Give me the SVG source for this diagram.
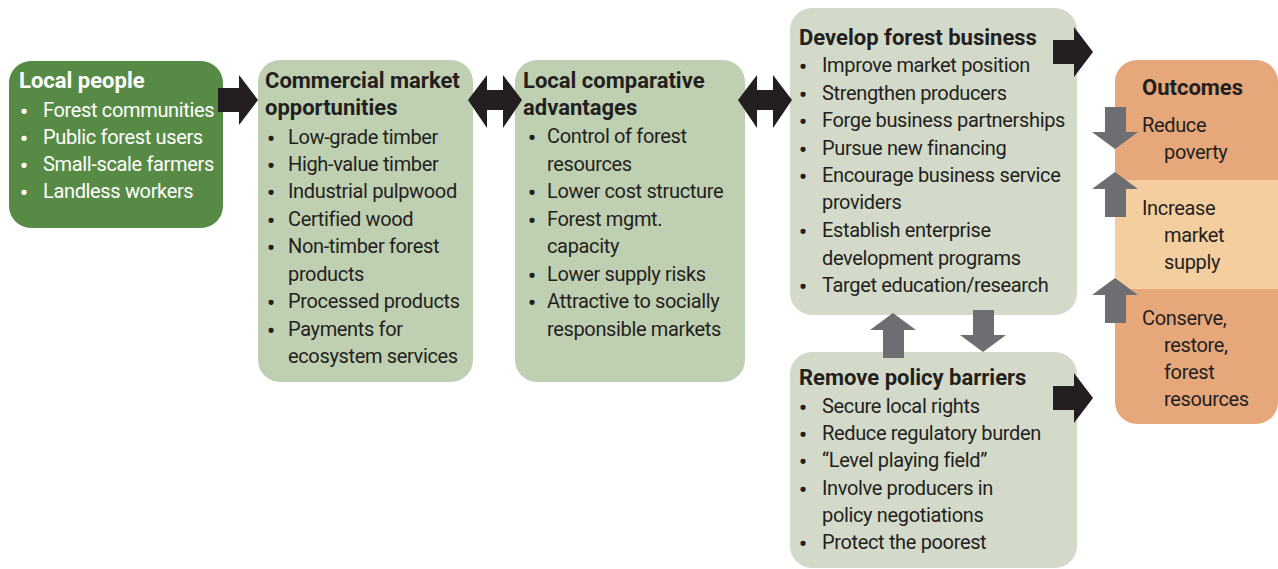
<svg xmlns="http://www.w3.org/2000/svg" width="1278" height="569" viewBox="0 0 1278 569">
  <style>
    text { font-family: Roboto, "Liberation Sans", sans-serif; font-size: 20px; letter-spacing: -0.35px; fill: #231f20; }
    .hd { font-weight: bold; font-size: 22px; letter-spacing: 0px; }
    .b { font-size: 22px; font-weight: bold; text-anchor: middle; letter-spacing: 0px; }
    .w { fill: #ffffff; }
    .dark { fill: #578b45; }
    .sage { fill: #bfcfb1; }
    .pale { fill: #d3dac9; }
    .blk { fill: #231f20; }
    .gry { fill: #6d6e71; }
  </style>
  <defs>
    <!-- block arrow pointing right, tip at origin -->
    <path id="arrR" d="M-40,-12 H-19 V-25 L0,0 L-19,25 V12 H-40 Z"/>
    <!-- double-headed arrow, centred on origin -->
    <path id="arr2" d="M-27,0 L-8,-25 V-10 H8 V-25 L27,0 L8,28 V10 H-8 V28 Z"/>
    <!-- grey arrow pointing down, tip at origin -->
    <path id="arrD" d="M-10,-42 H11 V-17 H23 L0,0 L-23,-17 H-10 Z"/>
    <!-- grey arrow pointing up, tip at origin -->
    <path id="arrU" d="M-10,45 H11 V17 H23 L0,0 L-23,17 H-10 Z"/>
  </defs>

  <!-- outcomes panel (drawn first so arrows sit over it) -->
  <g id="outcomes">
    <clipPath id="outClip"><rect x="1115" y="60" width="163" height="364" rx="22"/></clipPath>
    <g clip-path="url(#outClip)">
      <rect x="1115" y="60" width="163" height="120" fill="#e6a77b"/>
      <rect x="1115" y="180" width="163" height="109" fill="#f5cea0"/>
      <rect x="1115" y="289" width="163" height="135" fill="#e6a77b"/>
    </g>
    <text class="hd" x="1142" y="95">Outcomes</text>
    <text x="1142" y="132">Reduce</text>
    <text x="1164" y="159">poverty</text>
    <text x="1142" y="215">Increase</text>
    <text x="1164" y="242">market</text>
    <text x="1164" y="269">supply</text>
    <text x="1142" y="325">Conserve,</text>
    <text x="1164" y="352">restore,</text>
    <text x="1164" y="379">forest</text>
    <text x="1164" y="406">resources</text>
  </g>

  <g id="local-people">
    <rect class="dark" x="9" y="61" width="214" height="167" rx="22"/>
    <text class="hd w" x="19" y="88">Local people</text>
    <text class="b w" x="24" y="119">•</text><text class="w" x="43" y="117">Forest communities</text>
    <text class="b w" x="24" y="146">•</text><text class="w" x="43" y="144">Public forest users</text>
    <text class="b w" x="24" y="173">•</text><text class="w" x="43" y="171">Small-scale farmers</text>
    <text class="b w" x="24" y="200">•</text><text class="w" x="43" y="198">Landless workers</text>
  </g>

  <g id="market-opportunities">
    <rect class="sage" x="258" y="60" width="215" height="322" rx="22"/>
    <text class="hd" x="265" y="88">Commercial market</text>
    <text class="hd" x="265" y="115">opportunities</text>
    <text class="b" x="271" y="146">•</text><text x="288" y="144">Low-grade timber</text>
    <text class="b" x="271" y="173">•</text><text x="288" y="171">High-value timber</text>
    <text class="b" x="271" y="200">•</text><text x="288" y="198">Industrial pulpwood</text>
    <text class="b" x="271" y="228">•</text><text x="288" y="226">Certified wood</text>
    <text class="b" x="271" y="255">•</text><text x="288" y="253">Non-timber forest</text>
    <text x="288" y="281">products</text>
    <text class="b" x="271" y="310">•</text><text x="288" y="308">Processed products</text>
    <text class="b" x="271" y="338">•</text><text x="288" y="336">Payments for</text>
    <text x="288" y="363">ecosystem services</text>
  </g>

  <g id="comparative-advantages">
    <rect class="sage" x="515" y="60" width="230" height="322" rx="22"/>
    <text class="hd" x="523" y="88">Local comparative</text>
    <text class="hd" x="523" y="115">advantages</text>
    <text class="b" x="532" y="145">•</text><text x="547" y="143">Control of forest</text>
    <text x="547" y="171">resources</text>
    <text class="b" x="532" y="200">•</text><text x="547" y="198">Lower cost structure</text>
    <text class="b" x="532" y="228">•</text><text x="547" y="226">Forest mgmt.</text>
    <text x="547" y="253">capacity</text>
    <text class="b" x="532" y="283">•</text><text x="547" y="281">Lower supply risks</text>
    <text class="b" x="532" y="310">•</text><text x="547" y="308">Attractive to socially</text>
    <text x="547" y="336">responsible markets</text>
  </g>

  <g id="forest-business">
    <rect class="pale" x="790" y="8" width="287" height="307" rx="22"/>
    <text class="hd" x="799" y="45">Develop forest business</text>
    <text class="b" x="803" y="74">•</text><text x="822" y="72">Improve market position</text>
    <text class="b" x="803" y="102">•</text><text x="822" y="100">Strengthen producers</text>
    <text class="b" x="803" y="129">•</text><text x="822" y="127">Forge business partnerships</text>
    <text class="b" x="803" y="157">•</text><text x="822" y="155">Pursue new financing</text>
    <text class="b" x="803" y="184">•</text><text x="822" y="182">Encourage business service</text>
    <text x="822" y="209">providers</text>
    <text class="b" x="803" y="239">•</text><text x="822" y="237">Establish enterprise</text>
    <text x="822" y="265">development programs</text>
    <text class="b" x="803" y="294">•</text><text x="822" y="292">Target education/research</text>
  </g>

  <g id="policy-barriers">
    <rect class="pale" x="790" y="352" width="287" height="216" rx="22"/>
    <text class="hd" x="799" y="385">Remove policy barriers</text>
    <text class="b" x="803" y="415">•</text><text x="822" y="413">Secure local rights</text>
    <text class="b" x="803" y="442">•</text><text x="822" y="440">Reduce regulatory burden</text>
    <text class="b" x="803" y="469">•</text><text x="822" y="467">“Level playing field”</text>
    <text class="b" x="803" y="497">•</text><text x="822" y="495">Involve producers in</text>
    <text x="822" y="522">policy negotiations</text>
    <text class="b" x="803" y="551">•</text><text x="822" y="549">Protect the poorest</text>
  </g>

  <g id="connectors">
    <use href="#arrR" class="blk" x="258" y="100"/>
    <use href="#arr2" class="blk" x="495" y="100"/>
    <use href="#arr2" class="blk" x="765" y="100"/>
    <use href="#arrR" class="blk" x="1093" y="52"/>
    <use href="#arrR" class="blk" x="1093" y="398"/>
    <use href="#arrU" class="gry" x="893" y="313"/>
    <use href="#arrD" class="gry" x="983" y="352"/>
    <use href="#arrD" class="gry" x="1115" y="149"/>
    <use href="#arrU" class="gry" x="1115" y="172"/>
    <use href="#arrU" class="gry" x="1115" y="278"/>
  </g>
</svg>
